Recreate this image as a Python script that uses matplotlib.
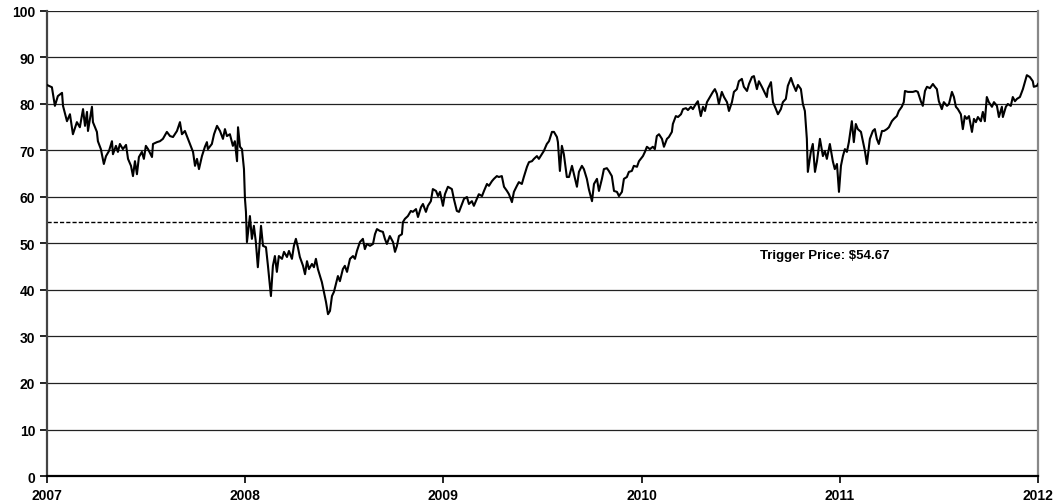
import matplotlib
matplotlib.use("Agg")
import matplotlib.pyplot as plt
import numpy as np

# Time offsets (years since start of 2007) and prices
t_2007 = [0.000, 0.025, 0.040, 0.055, 0.076, 0.081, 0.101, 0.116, 0.131, 0.151,
          0.166, 0.182, 0.192, 0.202, 0.207, 0.227, 0.232, 0.252, 0.257, 0.272,
          0.287, 0.298, 0.313, 0.328, 0.333, 0.348, 0.358, 0.368, 0.383, 0.399,
          0.409, 0.424, 0.434, 0.444, 0.454, 0.464, 0.479, 0.489, 0.499, 0.510,
          0.530, 0.535, 0.555, 0.570, 0.585, 0.605, 0.621, 0.636, 0.656, 0.671,
          0.681, 0.696, 0.706, 0.721, 0.737, 0.747, 0.757, 0.767, 0.782, 0.797,
          0.807, 0.812, 0.832, 0.843, 0.858, 0.873, 0.888, 0.898, 0.908, 0.923,
          0.938, 0.948, 0.959, 0.964, 0.974, 0.984, 0.994]
p_2007 = [84.1, 83.6, 79.6, 81.7, 82.4, 79.6, 76.3, 77.8, 73.5, 76.1,
          75.0, 78.9, 75.3, 78.3, 74.2, 79.4, 76.1, 74.0, 72.0, 70.3,
          67.1, 68.8, 69.9, 72.0, 69.2, 71.0, 69.7, 71.4, 70.3, 71.2,
          68.2, 66.7, 64.5, 67.7, 64.9, 68.6, 69.7, 68.2, 71.0, 70.3,
          68.6, 71.4, 71.8, 72.0, 72.5, 74.0, 73.1, 72.9, 74.2, 76.1,
          73.5, 74.2, 73.1, 71.4, 69.7, 66.7, 68.2, 66.0, 68.8, 70.8,
          71.8, 70.3, 71.4, 73.5, 75.3, 74.2, 72.5, 74.6, 73.1, 73.5,
          71.0, 72.0, 67.7, 75.0, 70.8, 70.3, 66.0]

t_2008 = [0.999, 1.004, 1.009, 1.024, 1.034, 1.044, 1.054, 1.064, 1.080, 1.090,
          1.105, 1.115, 1.130, 1.140, 1.150, 1.160, 1.170, 1.186, 1.196, 1.211,
          1.221, 1.236, 1.246, 1.256, 1.266, 1.276, 1.292, 1.302, 1.312, 1.322,
          1.337, 1.347, 1.357, 1.367, 1.387, 1.397, 1.408, 1.418, 1.428, 1.438,
          1.448, 1.458, 1.468, 1.478, 1.493, 1.503, 1.514, 1.529, 1.544, 1.554,
          1.564, 1.579, 1.594, 1.604, 1.614, 1.630, 1.645, 1.655, 1.665, 1.680,
          1.695, 1.705, 1.715, 1.730, 1.746, 1.756, 1.766, 1.776, 1.791, 1.796,
          1.806, 1.821, 1.836, 1.846, 1.862, 1.872, 1.887, 1.897, 1.912, 1.922,
          1.937, 1.947, 1.963, 1.973]
p_2008 = [59.6, 56.8, 50.3, 55.9, 51.0, 53.8, 50.3, 44.9, 53.8, 49.5,
          49.2, 45.2, 38.7, 45.2, 47.3, 43.9, 47.3, 46.7, 48.2, 47.1,
          48.4, 46.7, 49.5, 51.0, 49.2, 47.1, 45.2, 43.4, 46.2, 44.5,
          45.6, 44.9, 46.7, 44.5, 41.7, 39.6, 37.4, 34.8, 35.5, 38.7,
          39.6, 41.3, 43.0, 41.9, 44.5, 45.2, 43.9, 46.7, 47.3, 46.7,
          48.4, 50.3, 51.0, 48.8, 49.9, 49.5, 49.9, 52.0, 53.1, 52.7,
          52.5, 51.0, 49.9, 51.6, 50.3, 48.2, 49.5, 51.6, 52.0, 54.6,
          55.3, 55.9, 57.0, 56.8, 57.4, 55.7, 57.8, 58.5, 56.8, 58.1,
          59.1, 61.7, 61.3, 60.2]

t_2009 = [1.983, 1.998, 2.008, 2.023, 2.043, 2.053, 2.068, 2.079, 2.094, 2.104,
          2.119, 2.129, 2.144, 2.154, 2.169, 2.179, 2.195, 2.205, 2.220, 2.230,
          2.245, 2.255, 2.270, 2.280, 2.295, 2.306, 2.321, 2.331, 2.346, 2.356,
          2.371, 2.381, 2.396, 2.406, 2.422, 2.432, 2.447, 2.457, 2.472, 2.482,
          2.497, 2.507, 2.522, 2.533, 2.548, 2.558, 2.573, 2.578, 2.588, 2.598,
          2.608, 2.623, 2.634, 2.649, 2.659, 2.674, 2.684, 2.699, 2.709, 2.724,
          2.734, 2.750, 2.760, 2.775, 2.785, 2.800, 2.810, 2.825, 2.835, 2.850,
          2.861, 2.876, 2.886, 2.901, 2.911, 2.926, 2.936, 2.951, 2.961, 2.977,
          2.987]
p_2009 = [61.1, 58.1, 60.6, 62.2, 61.7, 59.6, 57.0, 56.8, 58.5, 59.6,
          60.0, 58.5, 59.1, 58.1, 59.6, 60.6, 60.2, 61.3, 62.8, 62.4,
          63.4, 63.9, 64.5, 64.3, 64.5, 62.2, 61.3, 60.6, 58.9, 61.1,
          62.4, 63.2, 62.8, 64.3, 66.5, 67.5, 67.7, 68.2, 68.8, 68.2,
          69.2, 69.9, 71.4, 72.0, 74.0, 74.0, 72.9, 71.8, 65.6, 71.0,
          69.2, 64.3, 64.3, 66.7, 64.9, 62.2, 65.4, 66.7, 66.0, 63.9,
          61.7, 59.1, 62.8, 63.9, 61.3, 63.9, 66.0, 66.2, 65.6, 64.5,
          61.3, 61.1, 60.2, 61.1, 63.9, 64.3, 65.4, 65.6, 66.7, 66.5,
          67.7]

t_2010 = [3.007, 3.017, 3.027, 3.042, 3.057, 3.067, 3.077, 3.088, 3.103, 3.113,
          3.128, 3.138, 3.153, 3.158, 3.173, 3.184, 3.199, 3.209, 3.224, 3.234,
          3.249, 3.259, 3.274, 3.284, 3.299, 3.310, 3.320, 3.330, 3.345, 3.360,
          3.370, 3.380, 3.390, 3.405, 3.416, 3.431, 3.441, 3.456, 3.466, 3.481,
          3.491, 3.506, 3.516, 3.532, 3.542, 3.557, 3.567, 3.582, 3.592, 3.607,
          3.617, 3.632, 3.637, 3.653, 3.663, 3.678, 3.688, 3.703, 3.713, 3.728,
          3.738, 3.754, 3.764, 3.779, 3.789, 3.804, 3.814, 3.824, 3.834, 3.839,
          3.854, 3.864, 3.875, 3.885, 3.900, 3.915, 3.925, 3.935, 3.950, 3.965,
          3.975, 3.986, 3.996, 4.006]
p_2010 = [68.8, 69.7, 70.8, 70.3, 70.8, 70.3, 73.1, 73.5, 72.5, 70.8,
          72.5, 72.9, 74.0, 75.7, 77.4, 77.2, 77.8, 78.9, 79.1, 78.7,
          79.4, 78.9, 80.0, 80.6, 77.4, 79.4, 78.5, 80.4, 81.5, 82.6,
          83.2, 82.2, 80.0, 82.6, 81.5, 80.4, 78.5, 80.4, 82.6, 83.2,
          84.9, 85.4, 83.7, 82.8, 84.3, 85.8, 86.0, 83.2, 84.9, 83.7,
          82.8, 81.5, 83.2, 84.7, 80.4, 78.9, 77.8, 78.9, 80.4, 81.1,
          83.9, 85.6, 84.3, 82.8, 84.1, 83.2, 80.0, 78.5, 72.5, 65.4,
          69.7, 71.4, 65.4, 67.7, 72.5, 68.8, 69.9, 68.2, 71.4, 67.7,
          66.0, 67.1, 61.1, 66.7]

t_2011 = [4.016, 4.026, 4.036, 4.046, 4.061, 4.071, 4.081, 4.091, 4.107, 4.117,
          4.127, 4.137, 4.152, 4.167, 4.177, 4.187, 4.197, 4.213, 4.223, 4.238,
          4.248, 4.263, 4.273, 4.288, 4.298, 4.313, 4.323, 4.329, 4.344, 4.359,
          4.369, 4.384, 4.394, 4.409, 4.419, 4.430, 4.440, 4.455, 4.470, 4.480,
          4.490, 4.500, 4.515, 4.525, 4.541, 4.551, 4.566, 4.576, 4.586, 4.596,
          4.611, 4.621, 4.631, 4.641, 4.652, 4.667, 4.677, 4.687, 4.697, 4.712,
          4.722, 4.732, 4.742, 4.752, 4.768, 4.778, 4.793, 4.803, 4.818, 4.823,
          4.838, 4.848, 4.863, 4.873, 4.884, 4.894, 4.909, 4.924, 4.934, 4.944,
          4.959, 4.974, 4.979, 4.995, 5.000]
p_2011 = [68.8, 70.3, 69.7, 71.8, 76.3, 71.8, 75.7, 74.6, 74.0, 72.0,
          69.9, 67.1, 72.5, 74.2, 74.6, 72.5, 71.4, 74.2, 74.2, 74.6,
          75.0, 76.3, 76.8, 77.4, 78.5, 79.4, 80.4, 82.8, 82.6, 82.6,
          82.6, 82.8, 82.6, 80.6, 79.6, 82.8, 83.7, 83.4, 84.3, 83.7,
          83.2, 80.6, 78.9, 80.4, 79.6, 80.0, 82.6, 81.5, 79.4, 78.9,
          77.8, 74.6, 77.4, 76.8, 77.4, 74.0, 76.8, 76.1, 77.2, 76.3,
          78.3, 76.3, 81.5, 80.4, 79.4, 80.4, 79.6, 77.2, 79.4, 77.2,
          79.4, 80.0, 79.6, 81.5, 80.6, 81.1, 81.5, 83.2, 84.7, 86.2,
          85.8, 84.9, 83.7, 83.9, 84.3]

start_year = 2007
year_ticks = [2007, 2008, 2009, 2010, 2011, 2012]
y_ticks = [0, 10, 20, 30, 40, 50, 60, 70, 80, 90, 100]
trigger_price = 54.67
trigger_label = "Trigger Price: $54.67"

t_all = np.array(t_2007 + t_2008 + t_2009 + t_2010 + t_2011) + start_year
p_all = np.array(p_2007 + p_2008 + p_2009 + p_2010 + p_2011)

plt.rcParams['font.family'] = ['Liberation Sans', 'DejaVu Sans']

fig = plt.figure(figsize=(10.6, 5.02), dpi=100)
ax = fig.add_axes([0.0443, 0.0498, 0.9349, 0.9263])

for v in y_ticks[1:]:
    ax.axhline(v, color='#222222', lw=0.9, zorder=1)

ax.axhline(trigger_price, color='black', lw=1.0, ls=(0, (3, 1.5)), zorder=2)
ax.plot(t_all, p_all, color='black', lw=1.5, zorder=3)

ax.text(2010.925, 47.6, trigger_label, ha='center', va='center',
        fontsize=9.5, fontweight='bold')

ax.set_xlim(year_ticks[0], year_ticks[-1])
ax.set_ylim(0, 100)
ax.set_xticks(year_ticks)
ax.set_xticklabels([str(y) for y in year_ticks])
ax.set_yticks(y_ticks)
ax.tick_params(axis='both', labelsize=10, length=5, width=1.2, direction='out')
for lab in ax.get_xticklabels() + ax.get_yticklabels():
    lab.set_fontweight('bold')

ax.spines['left'].set_color('#444444')
ax.spines['left'].set_linewidth(1.6)
ax.spines['bottom'].set_color('black')
ax.spines['bottom'].set_linewidth(1.6)
ax.spines['right'].set_color('#888888')
ax.spines['right'].set_linewidth(1.6)
ax.spines['top'].set_visible(False)

fig.savefig("out.png", dpi=100)
